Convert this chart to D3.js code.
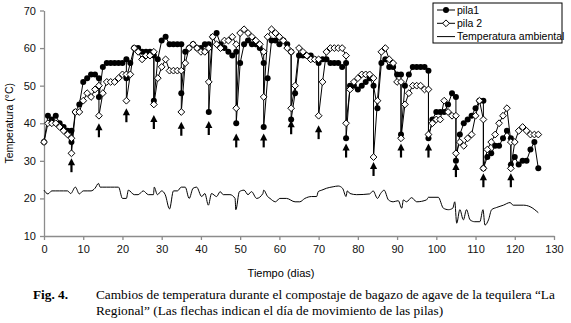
<!DOCTYPE html>
<html>
<head>
<meta charset="utf-8">
<script src="https://cdn.jsdelivr.net/npm/d3@7"></script>
<style>
  body { margin: 0; background: #fff; }
  svg { display: block; }
  .tick text { font-family: "Liberation Sans", Arial, sans-serif; font-size: 11px; fill: #111; }
</style>
</head>
<body>
<svg id="chart" width="571" height="323"></svg>
<script>
// dia, temperatura (el mismo dia se repite cuando se mueve la pila)
const pila1 = [
  [0, 35], [1, 42], [2, 41], [3, 42], [4, 40], [5, 39], [6, 38], [7, 38], [7, 35],
  [8, 43], [9, 45], [10, 51], [11, 52], [12, 53], [13, 53], [14, 52], [14, 47],
  [15, 55], [16, 56], [17, 56], [18, 56], [19, 56], [20, 56], [21, 57], [21, 52],
  [22, 56], [23, 60], [24, 60], [25, 59], [26, 59], [27, 59], [28, 58], [28, 46],
  [29, 57], [30, 62], [31, 63], [32, 61], [33, 61], [34, 61], [35, 61], [35, 48],
  [36, 59], [37, 60], [38, 61], [39, 60], [40, 60], [41, 61], [42, 61], [42, 43],
  [43, 63], [44, 64], [45, 61], [46, 60], [47, 59], [48, 58], [49, 59], [49, 40],
  [50, 56], [51, 61], [52, 62], [53, 61], [54, 61], [55, 60], [56, 56], [56, 39],
  [57, 52], [58, 62], [59, 62], [60, 61], [61, 62], [62, 61], [63, 59], [63, 41],
  [64, 48], [65, 58], [66, 58], [67, 58], [68, 58], [69, 57], [70, 56],
  [71, 57], [72, 57], [73, 56], [74, 56], [75, 56], [76, 55], [77, 56], [77, 36],
  [78, 50], [79, 50], [80, 49], [81, 50], [82, 51], [83, 52], [84, 50],
  [85, 44], [86, 56], [87, 57], [88, 55], [89, 55], [90, 53], [91, 53], [91, 37],
  [92, 50], [93, 53], [94, 55], [95, 55], [96, 55], [97, 55], [98, 54], [98, 36],
  [99, 41], [100, 43], [101, 43], [102, 43], [103, 45], [104, 48], [105, 47], [105, 30],
  [106, 37], [107, 40], [108, 41], [109, 42], [110, 44], [111, 46], [112, 46], [112, 28],
  [113, 31], [114, 32], [115, 34], [116, 34], [117, 36], [118, 38], [119, 36], [119, 29],
  [120, 31], [121, 29], [122, 30], [123, 30], [124, 33], [125, 35], [126, 28]
];

const pila2 = [
  [0, 35], [1, 40], [2, 40], [3, 40], [4, 39], [5, 38], [6, 37], [7, 36], [7, 32],
  [8, 43], [9, 43], [10, 46], [11, 48], [12, 47], [13, 49], [14, 50], [14, 42],
  [15, 48], [16, 51], [17, 51], [18, 51], [19, 52], [20, 53], [21, 53], [21, 46],
  [22, 53], [23, 60], [24, 59], [25, 57], [26, 58], [27, 58], [28, 59], [28, 45],
  [29, 52], [30, 55], [31, 57], [32, 54], [33, 54], [34, 54], [35, 54], [35, 43],
  [36, 56], [37, 60], [38, 61], [39, 60], [40, 59], [41, 59], [42, 60], [42, 51],
  [43, 63], [44, 61], [45, 60], [46, 62], [47, 62], [48, 63], [49, 61], [49, 44],
  [50, 64], [51, 65], [52, 64], [53, 63], [54, 62], [55, 61], [56, 59], [56, 47],
  [57, 63], [58, 65], [59, 64], [60, 63], [61, 62], [62, 60], [63, 59], [63, 44],
  [64, 50], [65, 60], [66, 59], [67, 58], [68, 57], [69, 57], [70, 57], [70, 42],
  [71, 51], [72, 59], [73, 60], [74, 60], [75, 60], [76, 60], [77, 58], [77, 40],
  [78, 49], [79, 51], [80, 52], [81, 53], [82, 53], [83, 53], [84, 52], [84, 31],
  [85, 46], [86, 59], [87, 60], [88, 57], [89, 56], [90, 51], [91, 51], [91, 36],
  [92, 45], [93, 48], [94, 50], [95, 50], [96, 50], [97, 49], [98, 49], [98, 37],
  [99, 40], [100, 41], [101, 41], [102, 46], [103, 43], [104, 42], [105, 42], [105, 32],
  [106, 35], [107, 34], [108, 36], [109, 37], [110, 42], [111, 46], [112, 41], [112, 28],
  [113, 33], [114, 35], [115, 37], [116, 40], [117, 42], [118, 44], [119, 35], [119, 28],
  [120, 35], [121, 38], [122, 39], [123, 38], [124, 37], [125, 37], [126, 37]
];

const ambiente = [
  [0, 22.2], [1, 21.2], [2, 22], [3, 22], [4, 22], [5, 22], [6, 22], [6.8, 21.3], [8, 23], [9, 21.2],
  [10, 22], [11, 22], [12, 22], [13, 22.7], [13.9, 24], [14.3, 23], [15, 23], [16, 23], [17, 23], [18, 23],
  [19, 23], [20, 20], [21, 20], [21.5, 22.2], [23, 21], [24, 21], [25.3, 22], [26.6, 21], [27.9, 21], [28.1, 23],
  [28.9, 21], [30, 22], [30.9, 21], [32, 17.2], [33, 22], [34, 22], [35, 23], [36, 23], [37, 20], [38, 22.7],
  [38.9, 23], [40.2, 20.5], [41, 21.3], [41.9, 18.2], [42.7, 21.3], [44, 20.5], [44.9, 21.8], [45.7, 21], [47.4, 21], [48.7, 20],
  [48.9, 17], [49.8, 21.8], [51, 22.2], [52, 21], [52.9, 21.8], [54.2, 20], [55.8, 21.3], [56, 22.2], [57, 20.5], [57.6, 20],
  [59, 19.1], [60.1, 20], [61.8, 20], [64, 19.1], [65.2, 19.1], [66.5, 20], [68.2, 20.5], [69.5, 20.5], [69.9, 21.8], [70.8, 22.2],
  [72, 22.7], [73.7, 23.1], [75, 23.3], [76.1, 22.7], [77, 20.5], [77.3, 22], [78, 21.3], [79.7, 21], [83, 21.2], [83.9, 22],
  [85, 20], [85.8, 21.3], [86.7, 22.2], [87.8, 19.6], [89, 19.1], [90.3, 19.4], [91.2, 17.4], [91.6, 19.6], [92.4, 19.1], [93.7, 20.2],
  [95, 19.1], [97.5, 19.6], [98, 20.3], [100.5, 20.3], [101.8, 17.4], [103.1, 17], [104.2, 17.4], [104.7, 19.1], [105.2, 13.4], [106, 17],
  [106.9, 14.3], [107.7, 17], [108.6, 14.3], [109.8, 13.8], [111.1, 13.8], [111.9, 17], [112.4, 12.9], [113.3, 14.3], [114.1, 17], [115.4, 17.6],
  [117.1, 18.2], [118.8, 18.9], [119.6, 18.2], [122.2, 18.2], [123.9, 17.8], [126, 16.2]
];

// flechas: dia de movimiento y temperatura de la punta
const flechaDias = [7, 14, 21, 28, 35, 42, 49, 56, 63, 70, 77, 84, 91, 98, 105, 112, 119];
const flechaTemp = [30.7, 40, 44, 42.2, 40.4, 40.6, 37.3, 37.3, 40.8, 39.5, 34.6, 29.7, 34.6, 34.6, 29.4, 26.7, 26.7];

const xTicks = d3.range(0, 131, 10);
const yTicks = d3.range(10, 71, 10);
const leyenda = ['pila1', 'pila 2', 'Temperatura ambiental'];

const svg = d3.select('#chart');
const sans = '"Liberation Sans", Arial, sans-serif';
const serif = '"Liberation Serif", "Times New Roman", serif';

const x = d3.scaleLinear().domain([0, 130]).range([44, 554]);
const y = d3.scaleLinear().domain([10, 70]).range([236, 10.5]);

// ejes
const gx = svg.append('g')
  .attr('transform', `translate(0,${y(10)})`)
  .call(d3.axisBottom(x).tickValues(xTicks).tickSize(4).tickSizeOuter(0).tickPadding(5));
const gy = svg.append('g')
  .attr('transform', `translate(${x(0)},0)`)
  .call(d3.axisLeft(y).tickValues(yTicks).tickSize(4).tickSizeOuter(0).tickPadding(4));
[gx, gy].forEach(g => {
  g.select('.domain').attr('stroke', '#8c8c8c').attr('stroke-width', 1.3);
  g.selectAll('.tick line').attr('stroke', '#8c8c8c').attr('stroke-width', 1.3);
});

svg.append('text')
  .attr('transform', `translate(13,${y(40)}) rotate(-90)`)
  .attr('text-anchor', 'middle')
  .attr('font-family', sans).attr('font-size', 10.5)
  .text('Temperatura (°C)');

svg.append('text')
  .attr('x', 281).attr('y', 277)
  .attr('text-anchor', 'middle')
  .attr('font-family', sans).attr('font-size', 11)
  .text('Tiempo (dias)');

const line = d3.line().x(d => x(d[0])).y(d => y(d[1]));
const diamond = (cx, cy, r) => `M${cx},${cy - r}L${cx + r},${cy}L${cx},${cy + r}L${cx - r},${cy}Z`;

// pila1
svg.append('path').datum(pila1)
  .attr('d', line).attr('fill', 'none').attr('stroke', '#000').attr('stroke-width', 1);
svg.append('g').selectAll('circle').data(pila1).join('circle')
  .attr('cx', d => x(d[0])).attr('cy', d => y(d[1])).attr('r', 3)
  .attr('fill', '#000');

// pila 2
svg.append('path').datum(pila2)
  .attr('d', line).attr('fill', 'none').attr('stroke', '#000').attr('stroke-width', 1);
svg.append('g').selectAll('path').data(pila2).join('path')
  .attr('d', d => diamond(x(d[0]), y(d[1]), 3.4))
  .attr('fill', '#fff').attr('stroke', '#000').attr('stroke-width', 1);

// temperatura ambiental
svg.append('path').datum(ambiente)
  .attr('d', line.curve(d3.curveMonotoneX))
  .attr('fill', 'none').attr('stroke', '#000').attr('stroke-width', 1);

// flechas
const flechas = svg.append('g');
flechaDias.forEach((d, i) => {
  const fx = x(d), fy = y(flechaTemp[i]);
  flechas.append('line')
    .attr('x1', fx).attr('x2', fx).attr('y1', fy + 5).attr('y2', fy + 14)
    .attr('stroke', '#000').attr('stroke-width', 2.2);
  flechas.append('path')
    .attr('d', `M${fx},${fy}L${fx + 3.6},${fy + 7}L${fx - 3.6},${fy + 7}Z`)
    .attr('fill', '#000');
});

// leyenda
const lg = svg.append('g');
lg.append('rect').attr('x', 433).attr('y', 3).attr('width', 129).attr('height', 40)
  .attr('fill', '#fff').attr('stroke', '#000').attr('stroke-width', 1);
leyenda.forEach((t, i) => {
  const ly = 10 + i * 13.3;
  lg.append('line').attr('x1', 437).attr('x2', 455).attr('y1', ly).attr('y2', ly)
    .attr('stroke', '#000').attr('stroke-width', 1);
  if (i === 0) lg.append('circle').attr('cx', 446).attr('cy', ly).attr('r', 3).attr('fill', '#000');
  if (i === 1) lg.append('path').attr('d', diamond(446, ly, 3.4)).attr('fill', '#fff').attr('stroke', '#000');
  lg.append('text').attr('x', 457).attr('y', ly + 3.7)
    .attr('font-family', sans).attr('font-size', 10.5).text(t);
});

// pie de figura
const cap = svg.append('g').attr('font-family', serif).attr('font-size', 13.3);
cap.append('text').attr('x', 33).attr('y', 299).attr('font-weight', 'bold').text('Fig. 4.');
cap.append('text').attr('x', 96).attr('y', 299)
  .text('Cambios de temperatura durante el compostaje de bagazo de agave de la tequilera “La');
cap.append('text').attr('x', 96).attr('y', 315)
  .text('Regional” (Las flechas indican el día de movimiento de las pilas)');
</script>
</body>
</html>
